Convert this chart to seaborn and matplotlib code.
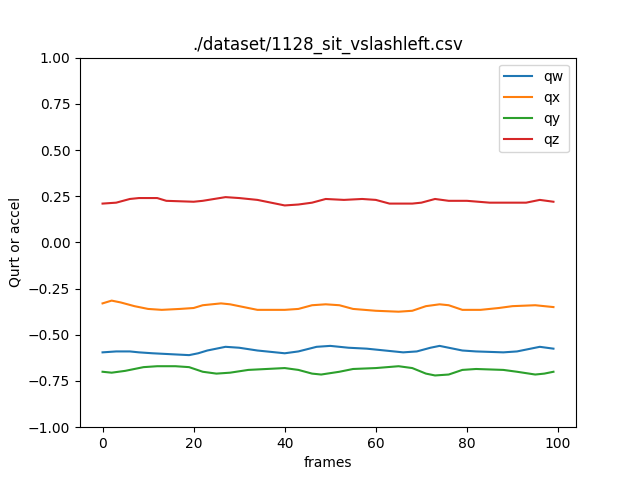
import matplotlib
matplotlib.use("Agg")
import matplotlib.pyplot as plt
import seaborn as sns

# frames / values
qw_x = [0, 3, 6, 8, 11, 15, 19, 21, 23, 27, 30, 34, 38, 40, 43, 47, 50, 54, 58, 62, 66, 69, 72, 74, 76, 79, 82, 88, 91, 94, 96, 99]
qw_y = [-0.595, -0.59, -0.59, -0.595, -0.60, -0.605, -0.61, -0.60, -0.585, -0.565, -0.57, -0.585, -0.595, -0.60, -0.59, -0.565, -0.56, -0.57, -0.575, -0.585, -0.595, -0.59, -0.57, -0.56, -0.57, -0.585, -0.59, -0.595, -0.59, -0.575, -0.565, -0.575]

qx_x = [0, 2, 4, 7, 10, 13, 17, 20, 22, 26, 28, 31, 34, 40, 43, 46, 49, 52, 55, 60, 65, 68, 71, 74, 76, 79, 83, 87, 90, 95, 99]
qx_y = [-0.33, -0.315, -0.325, -0.345, -0.36, -0.365, -0.36, -0.355, -0.34, -0.33, -0.335, -0.35, -0.365, -0.365, -0.36, -0.34, -0.335, -0.34, -0.36, -0.37, -0.375, -0.37, -0.345, -0.335, -0.34, -0.365, -0.365, -0.355, -0.345, -0.34, -0.35]

qy_x = [0, 2, 5, 9, 12, 16, 19, 22, 25, 28, 32, 36, 40, 43, 46, 48, 52, 55, 60, 65, 68, 71, 73, 76, 79, 82, 88, 91, 95, 97, 99]
qy_y = [-0.70, -0.705, -0.695, -0.675, -0.67, -0.67, -0.675, -0.70, -0.71, -0.705, -0.69, -0.685, -0.68, -0.69, -0.71, -0.715, -0.70, -0.685, -0.68, -0.67, -0.68, -0.71, -0.72, -0.715, -0.69, -0.685, -0.69, -0.70, -0.715, -0.71, -0.70]

qz_x = [0, 3, 6, 8, 12, 14, 20, 22, 27, 30, 34, 38, 40, 43, 46, 49, 53, 57, 60, 63, 68, 70, 73, 76, 80, 85, 90, 93, 96, 99]
qz_y = [0.21, 0.215, 0.235, 0.24, 0.24, 0.225, 0.22, 0.225, 0.245, 0.24, 0.23, 0.21, 0.20, 0.205, 0.215, 0.235, 0.23, 0.235, 0.23, 0.21, 0.21, 0.215, 0.235, 0.225, 0.225, 0.215, 0.215, 0.215, 0.23, 0.22]

fig, ax = plt.subplots(figsize=(6.4, 4.8), dpi=100)
sns.lineplot(x=qw_x, y=qw_y, label="qw", color="#1f77b4", ax=ax)
sns.lineplot(x=qx_x, y=qx_y, label="qx", color="#ff7f0e", ax=ax)
sns.lineplot(x=qy_x, y=qy_y, label="qy", color="#2ca02c", ax=ax)
sns.lineplot(x=qz_x, y=qz_y, label="qz", color="#d62728", ax=ax)
ax.set_ylim(-1, 1)
ax.set_xlabel("frames")
ax.set_ylabel("Qurt or accel")
ax.set_title("./dataset/1128_sit_vslashleft.csv")
ax.legend(loc="upper right")
plt.savefig("out.png")
